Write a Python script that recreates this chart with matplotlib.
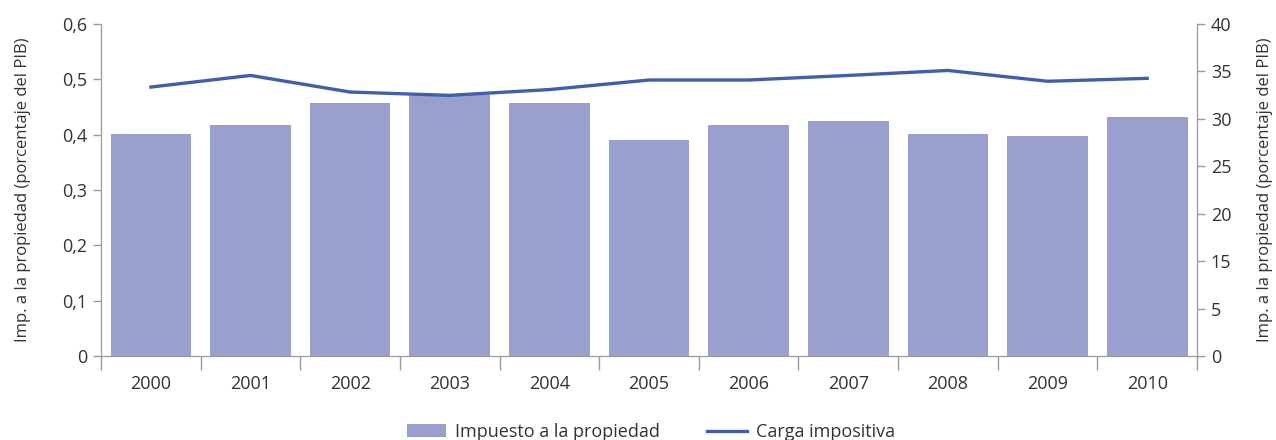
import numpy as np
import matplotlib
matplotlib.use("Agg")
import matplotlib.pyplot as plt

plt.rcParams['font.family'] = ['Open Sans', 'DejaVu Sans']

years = ['2000', '2001', '2002', '2003', '2004', '2005', '2006', '2007', '2008', '2009', '2010']
impuesto = [0.401, 0.417, 0.457, 0.472, 0.457, 0.390, 0.417, 0.425, 0.401, 0.398, 0.432]
# values on the right axis scale (0-40, eight evenly spaced ticks)
carga = [32.4, 33.8, 31.8, 31.4, 32.1, 33.25, 33.25, 33.8, 34.4, 33.1, 33.45]

left_ticks = [0, 0.1, 0.2, 0.3, 0.4, 0.5, 0.6]
left_labels = ['0', '0,1', '0,2', '0,3', '0,4', '0,5', '0,6']
right_labels = ['0', '5', '15', '20', '25', '30', '35', '40']

bar_color = '#9aa0ce'
line_color = '#3f5faa'
axis_color = '#9a9a9a'
text_color = '#333333'
ylab = 'Imp. a la propiedad (porcentaje del PIB)'
fs = 13

fig = plt.figure(figsize=(12.76, 4.4), dpi=100)
ax = fig.add_axes([0.0792, 0.1909, 0.8589, 0.7546])
x = np.arange(len(years))
bars = ax.bar(x, impuesto, width=0.81, color=bar_color, label='Impuesto a la propiedad', zorder=1)
ax.set_xlim(-0.5, len(years) - 0.5)
ax.set_ylim(0, 0.6)
ax.set_yticks(left_ticks)
ax.set_yticklabels(left_labels)
ax.set_xticks(x)
ax.set_xticklabels(years)
ax.set_xticks(np.arange(len(years) + 1) - 0.5, minor=True)
ax.tick_params(axis='x', which='major', length=0, pad=14, labelsize=fs, labelcolor=text_color)
ax.tick_params(axis='x', which='minor', length=10, width=1, color=axis_color)
ax.tick_params(axis='y', length=6, width=1, color=axis_color, labelsize=fs, labelcolor=text_color, pad=4)
ax.set_ylabel(ylab, fontsize=12, color=text_color, labelpad=22)
for s in ['left', 'bottom', 'right']:
    ax.spines[s].set_color(axis_color)
ax.spines['top'].set_visible(False)

ax2 = ax.twinx()
line, = ax2.plot(x, carga, color=line_color, lw=2.4, label='Carga impositiva', zorder=3)
ax2.set_ylim(0, 40)
ax2.set_yticks(np.linspace(0, 40, 8))
ax2.set_yticklabels(right_labels)
ax2.tick_params(axis='y', length=6, width=1, color=axis_color, labelsize=fs, labelcolor=text_color, pad=4)
ax2.set_ylabel(ylab, fontsize=12, color=text_color, labelpad=18)
for s in ['left', 'bottom', 'right']:
    ax2.spines[s].set_color(axis_color)
ax2.spines['top'].set_visible(False)

fig.legend([bars, line], ['Impuesto a la propiedad', 'Carga impositiva'],
           loc='center', bbox_to_anchor=(0.51, 0.018), ncol=2, frameon=False,
           fontsize=fs, handlelength=2.2, columnspacing=2.6, handletextpad=0.5,
           labelcolor=text_color)

fig.savefig('out.png', dpi=100)
